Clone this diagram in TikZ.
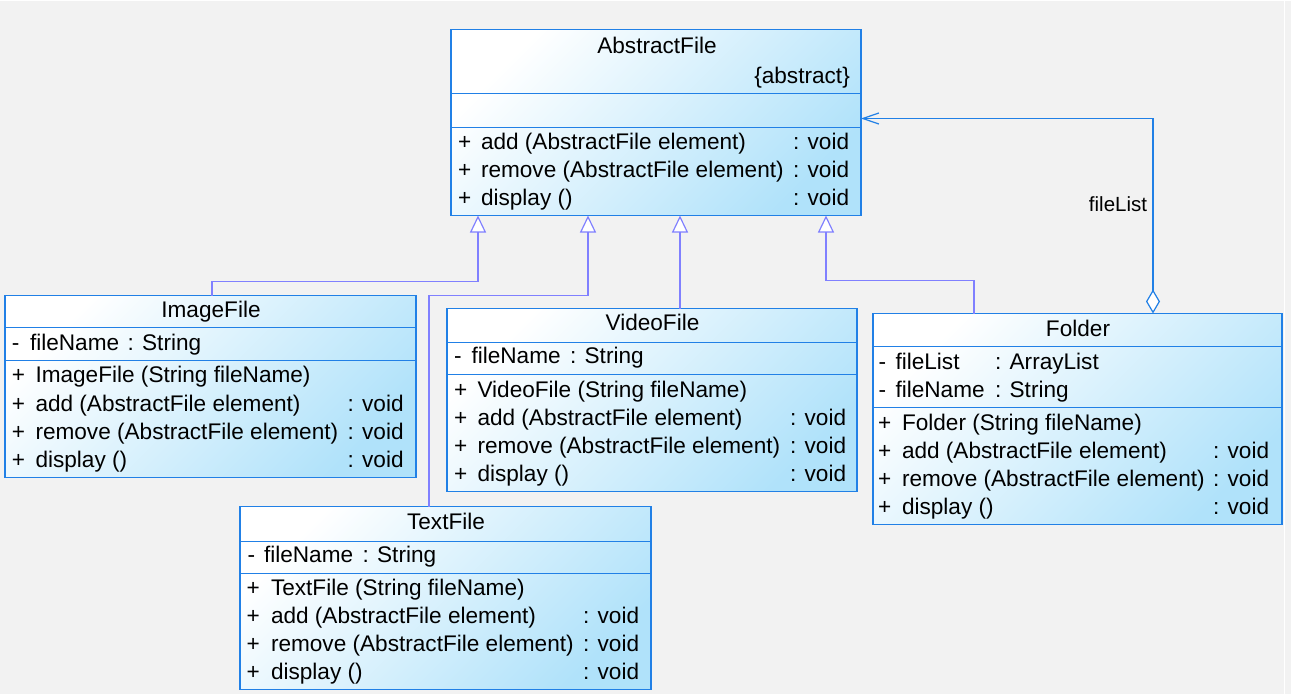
\documentclass[tikz,border=0pt]{standalone}
\usepackage{fontspec}
\setmainfont{Liberation Sans}
\usetikzlibrary{arrows.meta}
\definecolor{bg}{RGB}{242,242,242}
\definecolor{boxline}{RGB}{33,128,230}
\definecolor{boxblue}{RGB}{176,226,250}
\definecolor{genline}{RGB}{128,128,255}
\newcommand\fs{\fontsize{22.6}{26}\selectfont}
\newcommand\mrow[8]{%
  \node[txt] (#1s) at (#3,#2) {#4};
  \node[txt] (#1n) at (#5,#2) {#6};
  \node[txt] (#1t) at (#7,#2) {#8};}
\newcommand\crow[6]{%
  \node[txt] (#1s) at (#3,#2) {#4};
  \node[txt] (#1n) at (#5,#2) {#6};}
\begin{document}
\begin{tikzpicture}[x=1pt,y=-1pt,
  umlbox/.style={rectangle, draw=boxline, line width=1.2pt, outer sep=0pt, inner sep=0pt,
    anchor=north west, top color=white, bottom color=boxblue, shading angle=45},
  sep/.style={draw=boxline, line width=1.2pt},
  txt/.style={anchor=base west, inner sep=0pt, outer sep=0pt, font=\fs},
  ttl/.style={anchor=base, inner sep=0pt, outer sep=0pt, font=\fs},
  gen/.style={draw=genline, line width=1.2pt, -{Triangle[length=17pt,width=16pt,fill=white]}},
  assoc/.style={draw=boxline, line width=1.2pt,
    {Diamond[length=24pt,width=14pt,fill=white]}-{Straight Barb[length=16pt,width=11pt]}}]
\fill[bg] (0,0) rectangle (1291,693);
\draw[white, line width=1pt] (1284.5,0) -- (1284.5,693);

% ---------- AbstractFile
\node[umlbox, minimum width=410pt, minimum height=186pt] (abs) at (451,29) {};
\draw[sep] (451,93) -- (861,93);
\draw[sep] (451,127) -- (861,127);
\node[ttl] (absT) at (657,52.5) {AbstractFile};
\node[anchor=base east, inner sep=0pt, font=\fs] (absA) at (850,82.5) {\{abstract\}};
\mrow{a1}{148.5}{458}{+}{481}{add (AbstractFile element)}{793}{: void}
\mrow{a2}{176.5}{458}{+}{481}{remove (AbstractFile element)}{793}{: void}
\mrow{a3}{204.5}{458}{+}{481}{display ()}{793}{: void}

% ---------- ImageFile
\node[umlbox, minimum width=411pt, minimum height=182pt] (img) at (5,295) {};
\draw[sep] (5,327) -- (416,327);
\draw[sep] (5,360) -- (416,360);
\node[ttl] (imgT) at (211,317) {ImageFile};
\mrow{i0}{350}{12}{-}{30}{fileName}{127.5}{: String}
\crow{i1}{382}{12}{+}{35.5}{ImageFile (String fileName)}
\mrow{i2}{410.5}{12}{+}{35.5}{add (AbstractFile element)}{347.5}{: void}
\mrow{i3}{438.5}{12}{+}{35.5}{remove (AbstractFile element)}{347.5}{: void}
\mrow{i4}{466.5}{12}{+}{35.5}{display ()}{347.5}{: void}

% ---------- VideoFile
\node[umlbox, minimum width=410pt, minimum height=183pt] (vid) at (447,308) {};
\draw[sep] (447,342) -- (857,342);
\draw[sep] (447,374) -- (857,374);
\node[ttl] (vidT) at (652.5,330) {VideoFile};
\mrow{v0}{363}{454}{-}{471.5}{fileName}{570}{: String}
\crow{v1}{396.5}{454}{+}{477.5}{VideoFile (String fileName)}
\mrow{v2}{424.5}{454}{+}{477.5}{add (AbstractFile element)}{790}{: void}
\mrow{v3}{452.5}{454}{+}{477.5}{remove (AbstractFile element)}{790}{: void}
\mrow{v4}{480.5}{454}{+}{477.5}{display ()}{790}{: void}

% ---------- TextFile
\node[umlbox, minimum width=411pt, minimum height=183pt] (txf) at (240,506) {};
\draw[sep] (240,541) -- (651,541);
\draw[sep] (240,573) -- (651,573);
\node[ttl] (txfT) at (446,528.5) {TextFile};
\mrow{t0}{561.5}{247.5}{-}{264}{fileName}{362.5}{: String}
\crow{t1}{594.5}{246.5}{+}{271}{TextFile (String fileName)}
\mrow{t2}{622.5}{246.5}{+}{271}{add (AbstractFile element)}{583}{: void}
\mrow{t3}{650.5}{246.5}{+}{271}{remove (AbstractFile element)}{583}{: void}
\mrow{t4}{678.5}{246.5}{+}{271}{display ()}{583}{: void}

% ---------- Folder
\node[umlbox, minimum width=409pt, minimum height=211pt] (fol) at (873,313) {};
\draw[sep] (873,346) -- (1282,346);
\draw[sep] (873,407) -- (1282,407);
\node[ttl] (folT) at (1078,335.5) {Folder};
\mrow{f0}{368.5}{878.5}{-}{895.5}{fileList}{995}{: ArrayList}
\mrow{f1}{396.5}{878.5}{-}{895.5}{fileName}{995}{: String}
\crow{f2}{429.5}{878}{+}{902}{Folder (String fileName)}
\mrow{f3}{457.5}{878}{+}{902}{add (AbstractFile element)}{1213}{: void}
\mrow{f4}{485.5}{878}{+}{902}{remove (AbstractFile element)}{1213}{: void}
\mrow{f5}{513.5}{878}{+}{902}{display ()}{1213}{: void}

% ---------- connectors
\draw[gen] ([xshift=207pt]img.north west) -- ++(0,-14) -| ([xshift=27pt]abs.south west);
\draw[gen] ([xshift=189pt]txf.north west) -- ++(0,-211) -| ([xshift=137pt]abs.south west);
\draw[gen] ([xshift=233pt]vid.north west) -- ([xshift=229pt]abs.south west);
\draw[gen] ([xshift=101pt]fol.north west) -- ++(0,-33) -| ([xshift=375pt]abs.south west);
\draw[assoc] ([xshift=280pt]fol.north west) |- ([yshift=4pt]abs.east);
\node[anchor=base, inner sep=0pt, font=\fontsize{20.5}{24}\selectfont] (fl) at (1118,210.5) {fileList};
\end{tikzpicture}
\end{document}
